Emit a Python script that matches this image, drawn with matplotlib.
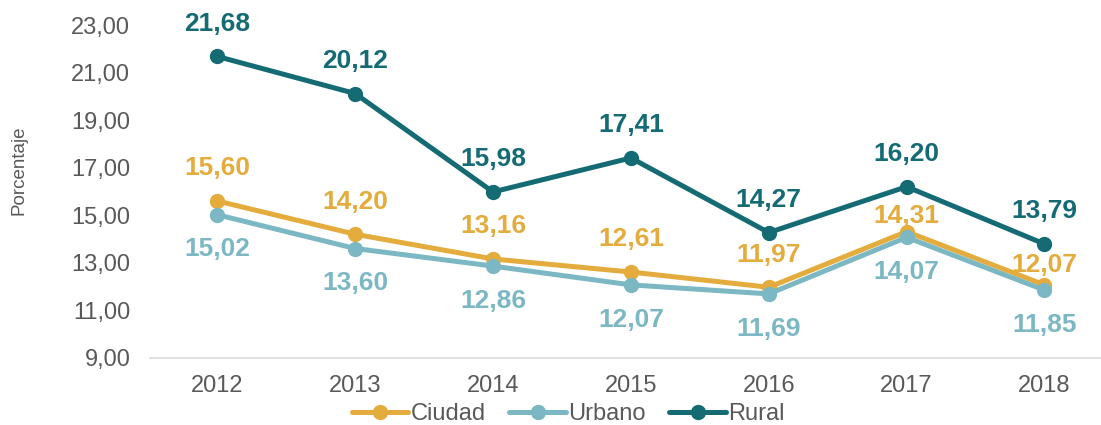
import matplotlib.pyplot as plt
import numpy as np

plt.rcParams['font.family'] = ['Liberation Sans', 'DejaVu Sans']

years = ['2012', '2013', '2014', '2015', '2016', '2017', '2018']
ciudad = [15.60, 14.20, 13.16, 12.61, 11.97, 14.31, 12.07]
urbano = [15.02, 13.60, 12.86, 12.07, 11.69, 14.07, 11.85]
rural = [21.68, 20.12, 15.98, 17.41, 14.27, 16.20, 13.79]
yticks = [9, 11, 13, 15, 17, 19, 21, 23]

c_ciudad = '#E3AC3C'
c_urbano = '#7BB8C3'
c_rural = '#146B74'
grey = '#595959'

# label offsets in points (Ciudad labels for 2017/2018 sit closer to the line)
off_ciudad = [23.5, 23.5, 23.5, 23.5, 23.5, 11, 14.5]
off_urbano = [-25] * 7
off_rural = [23.5] * 7

fig = plt.figure(figsize=(11.01, 4.25), dpi=100)
ax = fig.add_axes([0.136, 0.158, 0.864, 0.783])
x = np.arange(len(years))

series = [('Ciudad', ciudad, c_ciudad, off_ciudad),
          ('Urbano', urbano, c_urbano, off_urbano),
          ('Rural', rural, c_rural, off_rural)]
for name, vals, col, offs in series:
    ax.plot(x, vals, color=col, lw=3.6, marker='o', ms=10, label=name,
            solid_capstyle='round')
    for xi, v, off in zip(x, vals, offs):
        ax.annotate(f'{v:.2f}'.replace('.', ','), (xi, v), xytext=(0, off),
                    textcoords='offset points', ha='center', va='center',
                    fontsize=19, fontweight='bold', color=col)

ax.set_xlim(-0.49, 6.41)
ax.set_ylim(9, 23)
ax.set_xticks(x)
ax.set_xticklabels(years)
ax.set_yticks(yticks)
ax.set_yticklabels([f'{t:.2f}'.replace('.', ',') for t in yticks])
ax.tick_params(length=0, labelsize=17, colors=grey)
ax.tick_params(axis='x', pad=12)
ax.tick_params(axis='y', pad=14)
for s in ['top', 'right', 'left']:
    ax.spines[s].set_visible(False)
ax.spines['bottom'].set_color('#D9D9D9')
ax.spines['bottom'].set_linewidth(1.2)

fig.text(0.017, 0.6, 'Porcentaje', rotation=90, fontsize=13.5, color=grey,
         ha='center', va='center')

leg = ax.legend(loc='center', bbox_to_anchor=(0.44, -0.17), ncol=3,
                frameon=False, fontsize=17, handlelength=2.4,
                columnspacing=1.0, handletextpad=0.1, borderaxespad=0,
                borderpad=0.1)
for t in leg.get_texts():
    t.set_color(grey)

fig.savefig('out.png', dpi=100)
